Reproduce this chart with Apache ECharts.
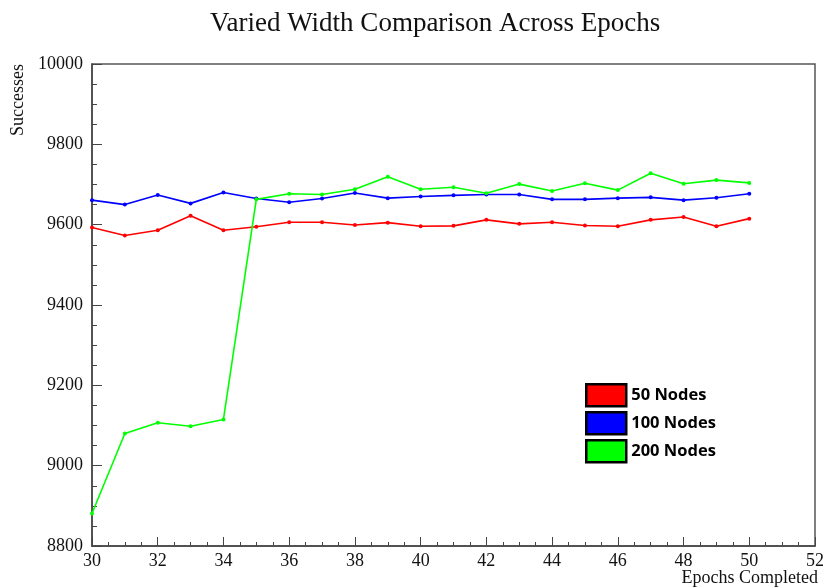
<!DOCTYPE html>
<html>
<head>
<meta charset="utf-8">
<script src="https://cdn.jsdelivr.net/npm/echarts@6/dist/echarts.min.js"></script>
<style>
  html, body { margin: 0; padding: 0; background: #fff; }
  #main { width: 827px; height: 587px; }
</style>
</head>
<body>
<div id="main"></div>
<script>
var epochs = [30, 31, 32, 33, 34, 35, 36, 37, 38, 39, 40, 41, 42, 43, 44, 45, 46, 47, 48, 49, 50];
var nodes50 = [9593, 9573, 9586, 9622, 9586, 9595, 9606, 9606, 9599, 9605, 9596, 9597, 9612, 9602, 9606, 9598, 9596, 9612, 9619, 9596, 9615];
var nodes100 = [9661, 9650, 9674, 9653, 9680, 9665, 9656, 9665, 9679, 9666, 9670, 9673, 9675, 9675, 9663, 9663, 9666, 9668, 9661, 9667, 9677];
var nodes200 = [8881, 9080, 9107, 9098, 9115, 9663, 9677, 9675, 9688, 9719, 9688, 9693, 9678, 9701, 9684, 9703, 9686, 9728, 9702, 9711, 9704];
var seriesNames = ['50 Nodes', '100 Nodes', '200 Nodes'];
var seriesColors = ['#ff0000', '#0000ff', '#00ff00'];

function pairs(vals) {
  return epochs.map(function (e, i) { return [e, vals[i]]; });
}

var chartDom = document.getElementById('main');
var myChart = echarts.init(chartDom);
var serif = '"Liberation Serif", "Times New Roman", serif';

var lineSeries = [nodes50, nodes100, nodes200].map(function (vals, i) {
  return {
    name: seriesNames[i],
    type: 'line',
    data: pairs(vals),
    symbol: 'circle',
    symbolSize: 4,
    color: seriesColors[i],
    lineStyle: { width: 1.6, color: seriesColors[i] },
    itemStyle: { color: seriesColors[i] },
    animation: false
  };
});

var option = {
  animation: false,
  title: {
    text: 'Varied Width Comparison Across Epochs',
    left: 205,
    top: 5,
    textStyle: { fontFamily: serif, fontSize: 27, fontWeight: 'normal', color: '#111' }
  },
  grid: {
    left: 92, right: 9, top: 64, bottom: 41,
    show: true, borderColor: '#555', borderWidth: 1.5
  },
  legend: {
    orient: 'vertical',
    left: 580,
    top: 378,
    icon: 'rect',
    itemWidth: 40,
    itemHeight: 22,
    itemGap: 3.5,
    itemStyle: { borderColor: '#000', borderWidth: 2.5 },
    textStyle: { fontFamily: '"Open Sans", sans-serif', fontWeight: 'bold', fontSize: 16.5, lineHeight: 20, color: '#000' },
    data: seriesNames
  },
  xAxis: {
    type: 'value',
    min: 30, max: 52, interval: 2,
    axisLine: { show: true, lineStyle: { color: '#444', width: 1.5 } },
    axisTick: { show: true, inside: true, length: 9, lineStyle: { color: '#444' } },
    minorTick: { show: true, splitNumber: 4, length: 4, lineStyle: { color: '#444' } },
    splitLine: { show: false },
    axisLabel: { fontFamily: serif, fontSize: 18, color: '#111', margin: 6 }
  },
  yAxis: {
    type: 'value',
    min: 8800, max: 10000, interval: 200,
    axisLine: { show: true, lineStyle: { color: '#444', width: 1.5 } },
    axisTick: { show: true, inside: true, length: 10, lineStyle: { color: '#444' } },
    minorTick: { show: true, splitNumber: 4, length: 5, lineStyle: { color: '#444' } },
    splitLine: { show: false },
    axisLabel: {
      fontFamily: serif, fontSize: 18, color: '#111', margin: 9,
      formatter: function (v) { return String(v); }
    }
  },
  graphic: [
    {
      type: 'text', x: 18, y: 64, rotation: Math.PI / 2,
      style: { text: 'Successes', font: '18px ' + serif, fill: '#111', align: 'right', verticalAlign: 'middle' }
    },
    {
      type: 'text', x: 818, y: 578,
      style: { text: 'Epochs Completed', font: '18px ' + serif, fill: '#111', align: 'right', verticalAlign: 'middle' }
    }
  ],
  series: lineSeries
};

option && myChart.setOption(option);
</script>
</body>
</html>
